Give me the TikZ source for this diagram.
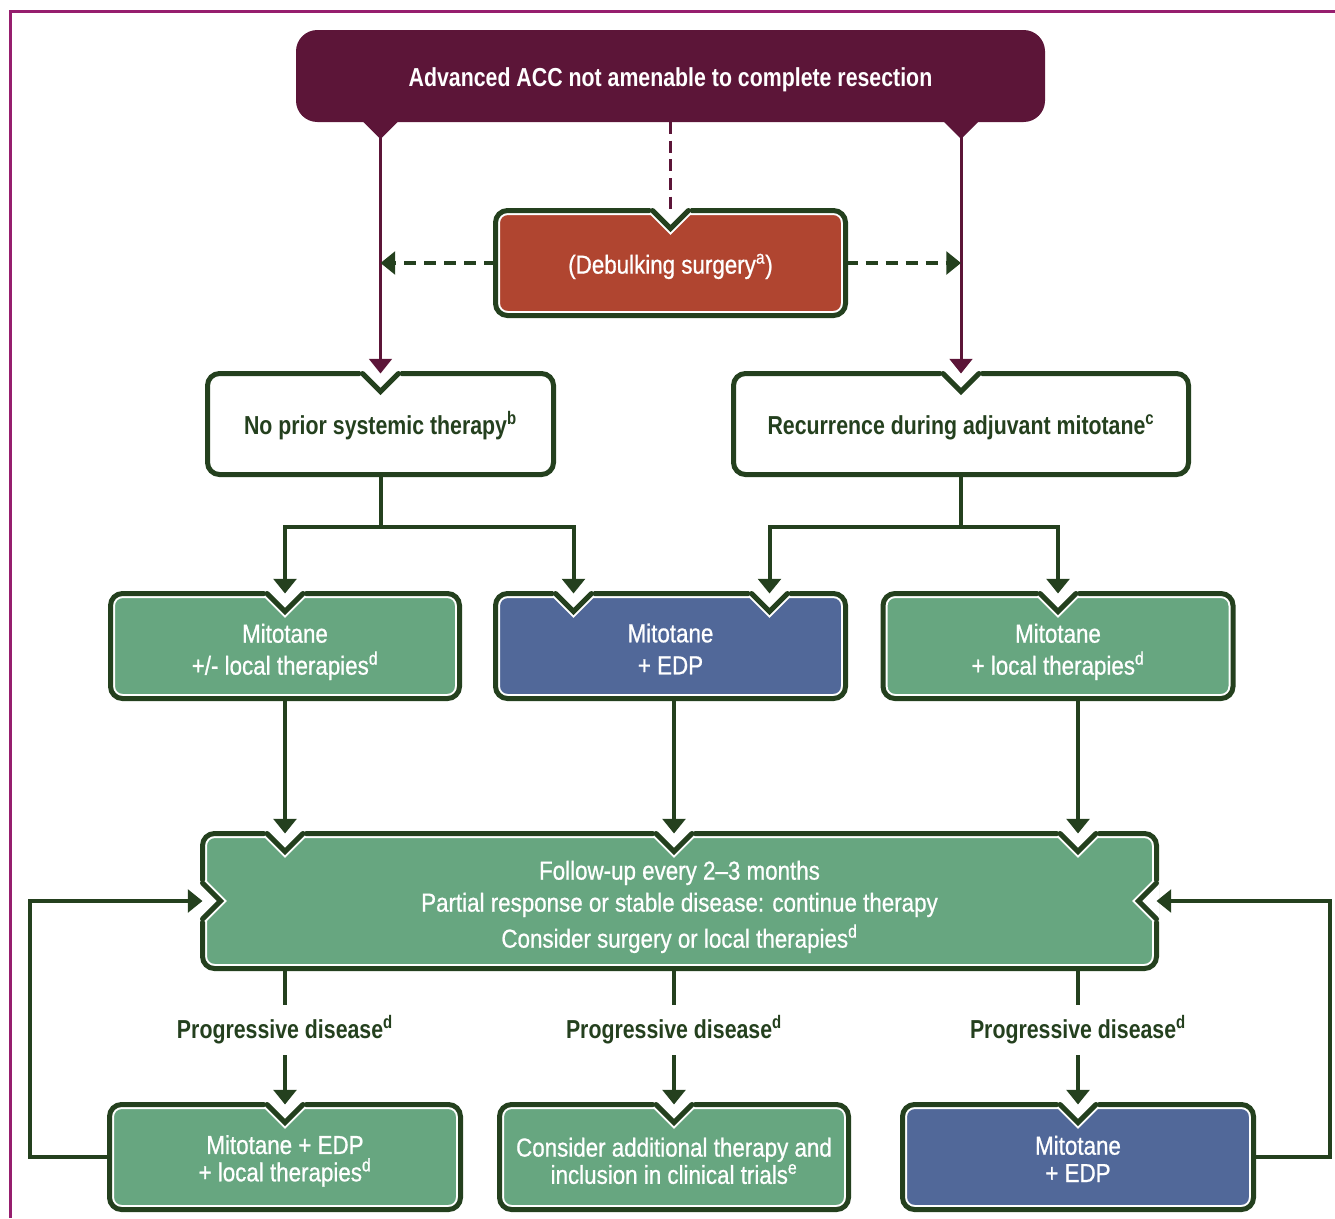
\documentclass[tikz,border=0pt]{standalone}
\usepackage{fontspec}
\setmainfont{Liberation Sans}[FakeStretch=0.86, BoldFeatures={FakeStretch=0.82}]
\newfontfamily\bodyfont{Liberation Sans}[FakeStretch=0.86, FakeBold=0.8, Ligatures=TeX]
\usetikzlibrary{arrows.meta}

\definecolor{accred}{RGB}{92,21,56}
\definecolor{framepink}{RGB}{150,30,110}
\definecolor{rust}{RGB}{176,69,48}
\definecolor{leaf}{RGB}{103,166,128}
\definecolor{slate}{RGB}{81,104,153}
\definecolor{pine}{RGB}{36,64,30}

% invisible strut that sets the text a little lower in its box
\newcommand{\lift}[1][23pt]{\vrule height #1 width 0pt\relax}

\tikzset{
  panel/.style={rectangle, rounded corners=9pt, inner sep=0pt, outer sep=0pt,
    fill=#1, draw=white, line width=6.75pt,
    postaction={draw=pine, line width=3.75pt},
    text=white, align=center, font=\bodyfont\fontsize{19.5}{24}\selectfont},
  tight/.style={font=\bodyfont\fontsize{19.5}{20.5}\selectfont},
  plainbox/.style={panel=white, text=pine, font=\bfseries\fontsize{19.5}{24}\selectfont},
  accbox/.style={rectangle, rounded corners=16pt, inner sep=0pt, outer sep=0pt,
    fill=accred, text=white, font=\bfseries\fontsize{19.5}{24}\selectfont},
  notchline/.style={white, line width=6.75pt,
    postaction={draw=pine, line width=3.75pt, line cap=round}},
  link/.style={pine, line width=3pt},
  mlink/.style={accred, line width=2.25pt},
  dashlink/.style={pine, line width=3pt, dash pattern=on 9pt off 6pt},
  prog/.style={text=pine, font=\bfseries\fontsize{19.5}{24}\selectfont,
    inner sep=0pt, minimum height=37.5pt}
}

% notch cut into a box edge, #1 = point on the edge
\newcommand{\notchdown}[1]{%
  \fill[white] (#1) ++(-21,-3) -- ++(21,21) -- ++(21,-21) -- cycle;
  \draw[notchline] (#1) ++(-18,0) -- ++(18,18) -- ++(18,-18);}
\newcommand{\notchright}[1]{%
  \fill[white] (#1) ++(-3,-21) -- ++(21,21) -- ++(-21,21) -- cycle;
  \draw[notchline] (#1) ++(0,-18) -- ++(18,18) -- ++(-18,18);}
\newcommand{\notchleft}[1]{%
  \fill[white] (#1) ++(3,-21) -- ++(-21,21) -- ++(21,21) -- cycle;
  \draw[notchline] (#1) ++(0,-18) -- ++(-18,18) -- ++(18,18);}

\begin{document}
\begin{tikzpicture}[x=0.75pt, y=-0.75pt, >={Triangle[width=17pt,length=11pt]}]
\useasboundingbox (0,0) rectangle (1335,1218);
\draw[framepink, line width=2.25pt] (10,1218) -- (10,11) -- (1335,11);

% boxes
\node[accbox, minimum width=561.75pt, minimum height=69pt] (acc) at (670.5,76)
  {\lift[20pt]Advanced ACC not amenable to complete resection};
\node[panel=rust, minimum width=262.5pt, minimum height=78.75pt] (debulk) at (670.5,263)
  {\lift[20pt](Debulking surgery\textsuperscript{a})};
\node[plainbox, minimum width=259.5pt, minimum height=75.75pt] (noprior) at (380.5,424)
  {\lift[20pt]No prior systemic therapy\textsuperscript{b}};
\node[plainbox, minimum width=341.25pt, minimum height=75.75pt] (recur) at (961,424)
  {\lift[20pt]Recurrence during adjuvant mitotane\textsuperscript{c}};

\node[panel=leaf, minimum width=261.75pt, minimum height=78.75pt] (mitoL) at (285,646)
  {\lift Mitotane\\+/- local therapies\textsuperscript{d}};
\node[panel=slate, minimum width=262.5pt, minimum height=78.75pt] (mitoM) at (670.5,646)
  {\lift[18.5pt]Mitotane\\+ EDP};
\node[panel=leaf, minimum width=262.5pt, minimum height=78.75pt] (mitoR) at (1058,646)
  {\lift Mitotane\\+ local therapies\textsuperscript{d}};

\node[panel=leaf, minimum width=715.5pt, minimum height=101.25pt] (follow) at (679.5,901)
  {\lift Follow-up every 2–3 months\\Partial response or stable disease: continue therapy\\[3pt]
   Consider surgery or local therapies\textsuperscript{d}};

\node[panel=leaf, tight, minimum width=263.25pt, minimum height=78.75pt] (botL) at (285,1157)
  {\lift[20pt]Mitotane + EDP\\+ local therapies\textsuperscript{d}};
\node[panel=leaf, tight, minimum width=261.75pt, minimum height=78.75pt] (botM) at (674,1157)
  {\lift[20pt]Consider additional therapy and\\inclusion in clinical trials\textsuperscript{e}};
\node[panel=slate, tight, minimum width=263.25pt, minimum height=78.75pt] (botR) at (1078,1157)
  {\lift[17pt]Mitotane\\+ EDP};

% notches
\notchdown{debulk.north}
\notchdown{noprior.north}
\notchdown{recur.north}
\notchdown{mitoL.north}
\notchdown{[xshift=-72.75pt]mitoM.north}
\notchdown{[xshift=74.25pt]mitoM.north}
\notchdown{mitoR.north}
\notchdown{follow.north -| botL.north}
\notchdown{follow.north -| botM.north}
\notchdown{follow.north -| botR.north}
\notchright{follow.west}
\notchleft{follow.east}
\notchdown{botL.north}
\notchdown{botM.north}
\notchdown{botR.north}

% points under the top box
\fill[accred] (acc.south -| noprior.north) ++(-18,-1) -- ++(18,18) -- ++(18,-18) -- cycle;
\fill[accred] (acc.south -| recur.north) ++(-18,-1) -- ++(18,18) -- ++(18,-18) -- cycle;

% connectors
\draw[mlink,->] (acc.south -| noprior.north) -- (noprior.north);
\draw[mlink,->] (acc.south -| recur.north) -- (recur.north);
\draw[mlink, dash pattern=on 9pt off 5pt] (acc.south) -- (debulk.north);
\draw[dashlink,->] (debulk.west) -- (debulk.west -| noprior.north);
\draw[dashlink,->] (debulk.east) -- (debulk.east -| recur.north);

\draw[link,->] (noprior.south) -- ++(0,52) -| (mitoL.north);
\draw[link,->] (noprior.south) -- ++(0,52) -| ([xshift=-72.75pt]mitoM.north);
\draw[link,->] (recur.south) -- ++(0,52) -| ([xshift=74.25pt]mitoM.north);
\draw[link,->] (recur.south) -- ++(0,52) -| (mitoR.north);

\draw[link,->] (mitoL.south -| botL.north) -- (follow.north -| botL.north);
\draw[link,->] (mitoM.south -| botM.north) -- (follow.north -| botM.north);
\draw[link,->] (mitoR.south -| botR.north) -- (follow.north -| botR.north);

\node[prog] (progL) at (285,1030) {Progressive disease\textsuperscript{d}};
\node[prog] (progM) at (674,1030) {Progressive disease\textsuperscript{d}};
\node[prog] (progR) at (1078,1030) {Progressive disease\textsuperscript{d}};
\draw[link] (follow.south -| botL.north) -- (progL);
\draw[link] (follow.south -| botM.north) -- (progM);
\draw[link] (follow.south -| botR.north) -- (progR);
\draw[link,->] (progL) -- (botL.north);
\draw[link,->] (progM) -- (botM.north);
\draw[link,->] (progR) -- (botR.north);

\draw[link,->] (botL.west) -- ++(-79.5,0) |- (follow.west);
\draw[link,->] (botR.east) -- ++(76.5,0) |- (follow.east);
\end{tikzpicture}
\end{document}
